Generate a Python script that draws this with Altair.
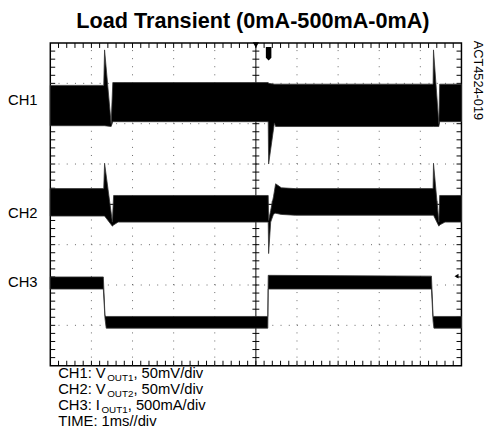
import altair as alt
import pandas as pd

# ---- data (time in screen divisions, 1 ms/div; amplitude in screen divisions) ----
ch1_t   = [0.00, 1.30, 1.32, 1.48, 1.52, 5.30, 5.31, 5.45, 5.48, 9.31, 9.32, 9.45, 9.47, 10.00]
ch1_top = [6.95, 6.95, 7.83, 6.00, 7.02, 7.02, 7.00, 6.98, 6.98, 6.98, 7.83, 6.00, 6.98, 6.98]
ch1_bot = [5.95, 5.95, 5.95, 5.93, 6.05, 6.05, 5.00, 6.02, 5.93, 5.93, 5.93, 5.93, 6.05, 6.05]

ch2_t   = [0.00, 1.30, 1.32, 1.51, 1.54, 1.65, 5.30, 5.31, 5.36, 5.43, 5.48, 5.62, 5.96, 9.31, 9.32, 9.45, 9.47, 9.60, 10.00]
ch2_top = [4.39, 4.39, 5.02, 3.56, 4.22, 4.22, 4.22, 3.60, 3.85, 4.20, 4.51, 4.41, 4.39, 4.39, 5.02, 3.56, 4.22, 4.22, 4.22]
ch2_bot = [3.71, 3.71, 3.71, 3.46, 3.49, 3.56, 3.56, 2.78, 3.56, 3.76, 3.78, 3.75, 3.73, 3.73, 3.73, 3.46, 3.49, 3.56, 3.56]

ch3_t   = [0.00, 1.29, 1.33, 1.36, 5.29, 5.30, 9.27, 9.31, 9.33, 10.00]
ch3_top = [2.20, 2.20, 1.24, 1.22, 1.22, 2.24, 2.22, 1.22, 1.22, 1.22]
ch3_bot = [1.90, 1.90, 1.17, 0.93, 0.93, 1.90, 1.90, 1.10, 0.93, 0.93]

channel_names = ["CH1", "CH2", "CH3"]
channel_levels = [6.59, 3.78, 2.07]

grid_x = [1, 2, 3, 4, 6, 7, 8, 9]
grid_y = [1, 2, 3, 5, 6, 7]
minor_x = [i / 5 for i in range(1, 50)]
minor_y = [i / 5 for i in range(1, 40)]

title_text = "Load Transient (0mA-500mA-0mA)"
side_text = "ACT4524-019"
legend_a = ["CH1: V", "CH2: V", "CH3: I"]
legend_sub = ["OUT1", "OUT2", "OUT1"]
legend_b = [", 50mV/div", ", 50mV/div", ", 500mA/div"]
time_text = "TIME: 1ms//div"

# ---- layout ----
W, H = 418, 328
FONT = "Liberation Sans"
FS = 15
SUB = 10
TX = 5 * 10 / W   # 5 px expressed in x divisions
TY = 5 * 8 / H    # 5 px expressed in y divisions

AW = {"C": .722, "H": .722, "1": .556, "2": .556, "3": .556, ":": .278, " ": .278,
      "V": .667, "I": .278, "O": .778, "U": .722, "T": .611}


def tw(s, size):
    return sum(AW.get(c, .556) for c in s) * size


xs = alt.Scale(domain=[0, 10], nice=False, zero=False)
ys = alt.Scale(domain=[0, 8], nice=False, zero=False)


def trace(t, top, bot):
    df = pd.DataFrame({"t": t, "top": top, "bot": bot})
    return alt.Chart(df).mark_area(color="black", opacity=1, stroke="#333",
                                    strokeWidth=0.8).encode(
        x=alt.X("t:Q", scale=xs, axis=None),
        y=alt.Y("top:Q", scale=ys, axis=None),
        y2=alt.Y2("bot:Q"))


layers = []

# dotted grid
layers.append(alt.Chart(pd.DataFrame({"v": grid_x})).mark_rule(
    color="#666", strokeWidth=1, strokeDash=[1, 7.2]).encode(
    x=alt.X("v:Q", scale=xs, axis=None), y=alt.datum(0), y2=alt.datum(8)))
layers.append(alt.Chart(pd.DataFrame({"v": grid_y})).mark_rule(
    color="#666", strokeWidth=1, strokeDash=[1, 7.36]).encode(
    y=alt.Y("v:Q", scale=ys, axis=None), x=alt.datum(0), x2=alt.datum(10)))

# centre cross
layers.append(alt.Chart(pd.DataFrame({"v": [5]})).mark_rule(color="black", strokeWidth=1).encode(
    x=alt.X("v:Q", scale=xs, axis=None), y=alt.datum(0), y2=alt.datum(8)))
layers.append(alt.Chart(pd.DataFrame({"v": [4]})).mark_rule(color="black", strokeWidth=1).encode(
    y=alt.Y("v:Q", scale=ys, axis=None), x=alt.datum(0), x2=alt.datum(10)))

# minor ticks: one layer per row of ticks
TICK_COL = "black"
for a, b in [(8.0, 8 - TY), (0.0, TY), (4 - 0.7 * TY, 4 + 0.7 * TY)]:
    dfv = pd.DataFrame({"v": minor_x, "a": [a] * len(minor_x), "b": [b] * len(minor_x)})
    layers.append(alt.Chart(dfv).mark_rule(color=TICK_COL, strokeWidth=1).encode(
        x=alt.X("v:Q", scale=xs, axis=None),
        y=alt.Y("a:Q", scale=ys, axis=None), y2=alt.Y2("b:Q")))
for a, b in [(0.0, TX), (10.0, 10 - TX), (5 - 0.7 * TX, 5 + 0.7 * TX)]:
    dfh = pd.DataFrame({"v": minor_y, "a": [a] * len(minor_y), "b": [b] * len(minor_y)})
    layers.append(alt.Chart(dfh).mark_rule(color=TICK_COL, strokeWidth=1).encode(
        y=alt.Y("v:Q", scale=ys, axis=None),
        x=alt.X("a:Q", scale=xs, axis=None), x2=alt.X2("b:Q")))

# traces
layers.append(trace(ch1_t, ch1_top, ch1_bot))
layers.append(trace(ch2_t, ch2_top, ch2_bot))
layers.append(trace(ch3_t, ch3_top, ch3_bot))

# scope markers
one = alt.Chart(pd.DataFrame({"v": [0]}))
layers.append(one.mark_point(shape="triangle-down", filled=True, color="black", size=40, opacity=1).encode(
    x=alt.datum(5), y=alt.value(2)))
layers.append(one.mark_point(shape="M-0.4,-1L0.4,-1L0.4,0.55L0,0.95L-0.4,0.55Z", filled=True,
                             color="black", size=196, opacity=1).encode(
    x=alt.datum(5.31), y=alt.value(11)))
layers.append(one.mark_point(shape="triangle-left", filled=True, color="black", size=22, opacity=1).encode(
    x=alt.datum(9.88), y=alt.datum(2.22)))

# texts
layers.append(one.mark_text(text=title_text, font=FONT, fontSize=22, fontWeight="bold",
                            align="center", baseline="alphabetic", color="black").encode(
    x=alt.value(W / 2 - 3), y=alt.value(-15)))
for name, lvl in zip(channel_names, channel_levels):
    layers.append(one.mark_text(text=name, font=FONT, fontSize=FS, align="center",
                                baseline="middle", color="black").encode(
        x=alt.value(-28), y=alt.datum(lvl)))
layers.append(one.mark_text(text=side_text, font=FONT, fontSize=13, angle=90, align="center",
                            baseline="middle", color="black").encode(
    x=alt.value(435), y=alt.value(38)))

x0 = 8
base_y = [341, 357, 373]
for a, s, b, yy in zip(legend_a, legend_sub, legend_b, base_y):
    layers.append(one.mark_text(text=a, font=FONT, fontSize=FS, align="left",
                                baseline="alphabetic", color="black").encode(
        x=alt.value(x0), y=alt.value(yy)))
    x1 = x0 + tw(a, FS) + 1.5
    layers.append(one.mark_text(text=s, font=FONT, fontSize=SUB, align="left",
                                baseline="alphabetic", color="black").encode(
        x=alt.value(x1), y=alt.value(yy + 3)))
    x2 = x1 + tw(s, SUB)
    layers.append(one.mark_text(text=b, font=FONT, fontSize=FS, align="left",
                                baseline="alphabetic", color="black").encode(
        x=alt.value(x2), y=alt.value(yy)))
layers.append(one.mark_text(text=time_text, font=FONT, fontSize=FS, align="left",
                            baseline="alphabetic", color="black").encode(
    x=alt.value(x0), y=alt.value(389)))

chart = alt.layer(*layers).properties(
    width=W, height=H,
    autosize=alt.AutoSizeParams(type="none"),
    padding={"left": 43, "top": 32, "right": 28, "bottom": 75},
    background="white",
).configure_view(stroke="black", strokeWidth=1.5).configure_axis(disable=True)

chart.save("out.html", embed_options={"renderer": "svg", "actions": False})
